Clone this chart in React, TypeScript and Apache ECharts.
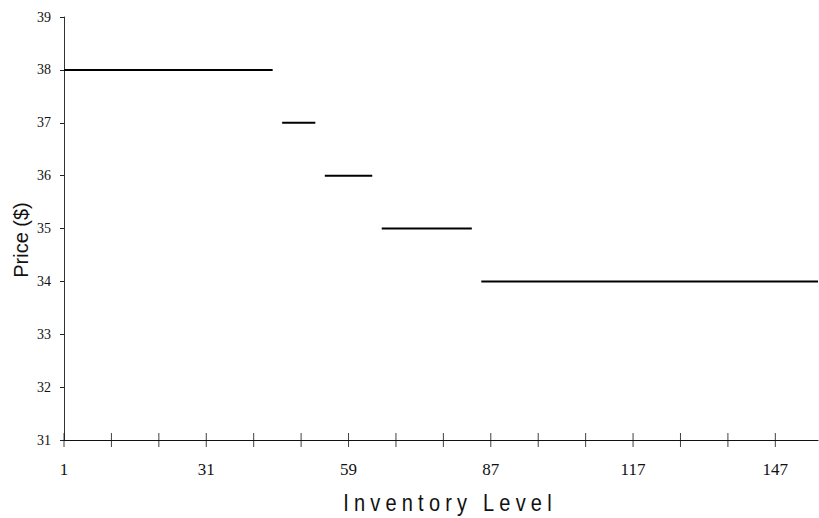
import React, { useEffect, useRef } from "react";
import * as echarts from "echarts";

// Price steps (y) and the inventory-axis span (x, axis units) each step covers
const prices = [38, 37, 36, 35, 34];
const segStart = [0, 46, 55, 67, 88];
const segEnd = [44, 53, 65, 86, 159];

// x-axis tick marks and labels (axis units -> shown label)
const tickPositions = [0, 10, 20, 30, 40, 50, 60, 70, 80, 90, 100, 110, 120, 130, 140, 150];
const labelPositions = [0, 30, 60, 90, 120, 150];
const tickLabels = ["1", "31", "59", "87", "117", "147"];

const yMin = 31;
const yMax = 39;

export default function App() {
  const ref = useRef<HTMLDivElement>(null);

  useEffect(() => {
    if (!ref.current) return;
    const chart = echarts.init(ref.current, null, { renderer: "svg" });

    const series: any[] = prices.map((p, i) => ({
      type: "line",
      data: [
        [segStart[i], p],
        [segEnd[i], p],
      ],
      symbol: "none",
      lineStyle: { color: "#000", width: 2 },
      silent: true,
    }));

    // tick marks that cross the x-axis line (drawn through the axis scales)
    series.push({
      type: "scatter",
      data: tickPositions.map((t) => [t, yMin]),
      symbol: "rect",
      symbolSize: [1, 14],
      itemStyle: { color: "#111" },
      clip: false,
      silent: true,
      z: 5,
    });

    const serif = "Liberation Serif";
    const sans = "Liberation Sans";

    chart.setOption({
      animation: false,
      backgroundColor: "#fff",
      grid: { left: 64, right: 1, top: 17, bottom: 78, containLabel: false },
      xAxis: {
        type: "value",
        min: 0,
        max: 159,
        axisLine: { show: true, lineStyle: { color: "#111", width: 1.2 } },
        axisTick: { show: false },
        axisLabel: {
          show: true,
          customValues: labelPositions,
          margin: 21,
          fontFamily: serif,
          fontSize: 17,
          color: "#111",
          formatter: (v: number) => {
            const idx = labelPositions.indexOf(Math.round(v));
            return idx >= 0 ? tickLabels[idx] : "";
          },
        },
        splitLine: { show: false },
      },
      yAxis: {
        type: "value",
        min: yMin,
        max: yMax,
        interval: 1,
        axisLine: { show: true, lineStyle: { color: "#333", width: 1 } },
        axisTick: { show: true, length: 4, lineStyle: { color: "#222" } },
        axisLabel: {
          margin: 13,
          fontFamily: serif,
          fontSize: 14,
          color: "#111",
        },
        splitLine: { show: false },
      },
      graphic: [
        {
          type: "text",
          id: "yname",
          x: 21,
          y: 240,
          rotation: Math.PI / 2,
          style: {
            text: "Price ($)",
            fontFamily: sans,
            fontSize: 20,
            fill: "#111",
            textAlign: "center",
            textVerticalAlign: "middle",
          },
        },
        {
          type: "text",
          id: "xname",
          x: 450,
          y: 503,
          scaleY: 1.2,
          style: {
            text: "Inventory Level",
            fontFamily: sans,
            fontSize: 20,
            fill: "#111",
            textAlign: "center",
            textVerticalAlign: "middle",
          },
        },
      ],
      series,
    });

    // widen the letter spacing of the x-axis title as in the original
    const texts = ref.current.querySelectorAll("text");
    texts.forEach((t) => {
      if (t.textContent === "Inventory Level") {
        (t as SVGTextElement).style.letterSpacing = "5.2px";
      }
    });

    return () => chart.dispose();
  }, []);

  return (
    <div
      ref={ref}
      style={{ position: "fixed", left: 0, top: 0, width: 819, height: 518, background: "#fff" }}
    />
  );
}
